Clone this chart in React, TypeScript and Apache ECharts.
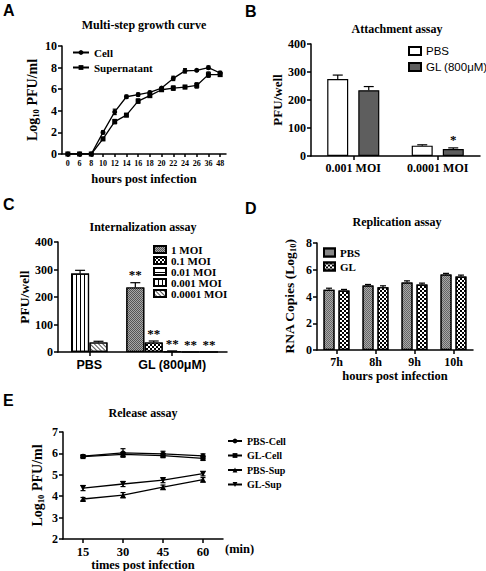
import React, { useEffect, useRef } from 'react';
import * as echarts from 'echarts';

// ---------- Panel A: Multi-step growth curve ----------
const hoursA = ['0', '6', '8', '10', '12', '14', '16', '18', '20', '22', '24', '26', '36', '48'];
const cellA = [0, 0, 0, 2.0, 3.9, 5.3, 5.5, 5.7, 6.1, 7.0, 7.7, 7.75, 8.0, 7.5];
const cellErrA = [0, 0, 0, 0.15, 0.25, 0.15, 0.15, 0.1, 0.1, 0.2, 0.2, 0.1, 0.15, 0.15];
const supA = [0, 0, 0, 1.4, 3.0, 3.6, 4.9, 5.4, 5.95, 6.1, 6.2, 6.35, 7.35, 7.35];
const supErrA = [0, 0, 0, 0.15, 0.2, 0.15, 0.2, 0.15, 0.1, 0.2, 0.15, 0.25, 0.25, 0.15];

// ---------- Panel B: Attachment assay ----------
const moiB = ['0.001 MOI', '0.0001 MOI'];
const pbsB = [275, 37];
const pbsErrB = [14, 3];
const glB = [235, 25];
const glErrB = [13, 4];
const sigB = ['', '*'];

// ---------- Panel C: Internalization assay ----------
const groupsC = ['PBS', 'GL (800μM)'];
const groupPosC = [0.5, 5];
const moiC = ['1 MOI', '0.1 MOI', '0.01 MOI', '0.001 MOI', '0.0001 MOI'];
const slotsC = [[3], [4], [5], [0, 6], [1, 7]];
const valuesC = [[235], [35], [3], [285, 0], [35, 0]];
const errC = [[17], [5], [1], [12, 0], [4, 0]];
const sigC = [['**'], ['**'], ['**'], ['', '**'], ['', '**']];

// ---------- Panel D: Replication assay ----------
const hoursD = ['7h', '8h', '9h', '10h'];
const pbsD = [4.5, 4.82, 5.05, 5.65];
const pbsErrD = [0.12, 0.08, 0.12, 0.08];
const glD = [4.45, 4.7, 4.9, 5.5];
const glErrD = [0.08, 0.1, 0.1, 0.1];

// ---------- Panel E: Release assay ----------
const minutesE = ['15', '30', '45', '60'];
const pbsCellE = [5.87, 6.02, 5.98, 5.88];
const pbsCellErrE = [0.05, 0.2, 0.12, 0.1];
const glCellE = [5.85, 5.95, 5.9, 5.77];
const glCellErrE = [0.05, 0.1, 0.1, 0.1];
const pbsSupE = [3.87, 4.05, 4.42, 4.77];
const pbsSupErrE = [0.07, 0.12, 0.1, 0.1];
const glSupE = [4.38, 4.57, 4.75, 5.05];
const glSupErrE = [0.12, 0.12, 0.12, 0.1];

const serif = '"Times New Roman", "Liberation Serif", serif';
const sans = 'Arial, "Liberation Sans", sans-serif';

const axisLine = { show: true, onZero: false, lineStyle: { color: '#000', width: 1.5 } };
const tickOut = { show: true, length: 4, inside: false, lineStyle: { color: '#000', width: 1.5 } };
const noSplit = { show: false };

function lbl(size: number, family = serif, weight = 'bold') {
  return { color: '#000', fontFamily: family, fontWeight: weight, fontSize: size };
}

function yName(rich: boolean, size: number) {
  return {
    color: '#000', fontFamily: serif, fontWeight: 'bold', fontSize: size,
    rich: rich ? {
      a: { color: '#000', fontFamily: serif, fontWeight: 'bold', fontSize: size },
      s: { color: '#000', fontFamily: serif, fontWeight: 'bold', fontSize: size * 0.62, padding: [7, 0, 0, 0] },
    } : undefined,
  };
}

function errSeries(xi: number, xs: number[], vals: number[], errs: number[], offset: number, cap: number, both: boolean,
  sig?: string[], sigGap = 3) {
  return {
    type: 'custom', xAxisIndex: xi, yAxisIndex: xi, z: 5, silent: true,
    encode: { x: 0, y: 1 },
    data: vals.map((v, i) => [xs[i], v, errs[i]]),
    renderItem: (params: any, api: any) => {
      const x = api.value(0), v = api.value(1), e = api.value(2);
      const hi = api.coord([x, v + e]);
      const lo = api.coord([x, both ? v - e : v]);
      const cx = hi[0] + offset;
      const st = { stroke: '#000', lineWidth: 1.2 };
      const children: any[] = [];
      if (e) {
        children.push({ type: 'line', shape: { x1: cx, y1: lo[1], x2: cx, y2: hi[1] }, style: st });
        children.push({ type: 'line', shape: { x1: cx - cap, y1: hi[1], x2: cx + cap, y2: hi[1] }, style: st });
        if (both) children.push({ type: 'line', shape: { x1: cx - cap, y1: lo[1], x2: cx + cap, y2: lo[1] }, style: st });
      }
      const s = sig ? sig[params.dataIndex] : '';
      if (s) {
        children.push({
          type: 'text', x: cx, y: hi[1] - sigGap,
          style: { text: s, fill: '#000', font: `bold 13px ${serif}`, textAlign: 'center', textVerticalAlign: 'bottom' },
        });
      }
      return { type: 'group', children };
    },
  };
}

const decalDark = { symbol: 'rect', symbolSize: 1, color: '#a8a8a8', backgroundColor: '#4a4a4a', dashArrayX: [[1, 1], [0, 1, 1, 0]], dashArrayY: [1, 0] };
const decalDarkD = { symbol: 'rect', symbolSize: 1, color: '#a8a8a8', backgroundColor: '#4a4a4a', dashArrayX: [[1, 1], [0, 1, 1, 0]], dashArrayY: [1, 0] };
const decalChecker = { symbol: 'rect', symbolSize: 1, color: '#000', backgroundColor: '#fff', dashArrayX: [[2, 2], [0, 2, 2, 0]], dashArrayY: [2, 0] };
const decalCheckerD = { symbol: 'rect', symbolSize: 1, color: '#000', backgroundColor: '#fff', dashArrayX: [[2, 2], [0, 2, 2, 0]], dashArrayY: [2, 0] };
const decalHoriz = { symbol: 'rect', symbolSize: 1, color: '#000', backgroundColor: '#fff', dashArrayX: [1, 0], dashArrayY: [1, 3] };
const decalVert = { symbol: 'rect', symbolSize: 1, color: '#000', backgroundColor: '#fff', dashArrayX: [1, 3], dashArrayY: [1, 0] };
const decalDiag = { symbol: 'rect', symbolSize: 1, color: '#555', backgroundColor: '#fff', dashArrayX: [1, 2], dashArrayY: [1, 0], rotation: -Math.PI / 4 };
const decalsC = [decalDark, decalChecker, decalHoriz, decalVert, decalDiag];
const fillsC = ['#555', '#fff', '#fff', '#fff', '#fff'];

const idx = (arr: any[]) => arr.map((_, i) => i);

function lineSeries(name: string, xi: number, data: number[], symbol: string, size: number, rotate = 0) {
  return {
    type: 'line', name, xAxisIndex: xi, yAxisIndex: xi, data, symbol, symbolSize: size, symbolRotate: rotate,
    lineStyle: { color: '#000', width: 1.3 }, itemStyle: { color: '#000' }, z: 3,
  };
}

function buildOption() {
  const grid = [
    { left: 62, top: 46, width: 164, height: 108 },
    { left: 311, top: 44, width: 169, height: 112 },
    { left: 58, top: 242, width: 169, height: 110 },
    { left: 317, top: 243, width: 156, height: 107 },
    { left: 63, top: 432, width: 160, height: 107 },
  ].map((g) => ({ ...g, outerBoundsMode: 'none', containLabel: false }));

  const xAxis: any[] = [
    {
      gridIndex: 0, type: 'category', data: hoursA, boundaryGap: true, axisLine,
      axisTick: { ...tickOut, length: 3, alignWithLabel: true },
      axisLabel: { ...lbl(8), interval: 0, margin: 5 },
      name: 'hours post infection', nameLocation: 'middle', nameGap: 18, nameTextStyle: lbl(12.5),
    },
    {
      gridIndex: 1, type: 'category', data: moiB, axisLine,
      axisTick: { ...tickOut, alignWithLabel: true },
      axisLabel: { ...lbl(12), margin: 6 },
    },
    {
      gridIndex: 2, type: 'value', min: -1.2, max: 7.98, axisLine, splitLine: noSplit,
      axisTick: { ...tickOut, customValues: groupPosC },
      axisLabel: {
        ...lbl(12.5, sans), margin: 6, customValues: groupPosC,
        formatter: (v: number) => groupsC[groupPosC.indexOf(v)] ?? '',
      },
    },
    {
      gridIndex: 3, type: 'category', data: hoursD, axisLine,
      axisTick: { ...tickOut, alignWithLabel: true },
      axisLabel: { ...lbl(12), margin: 6 },
      name: 'hours post infection', nameLocation: 'middle', nameGap: 19, nameTextStyle: lbl(12.5),
    },
    {
      gridIndex: 4, type: 'category', data: minutesE, axisLine,
      axisTick: { ...tickOut, alignWithLabel: true },
      axisLabel: { ...lbl(12.5), margin: 6 },
      name: 'times post infection', nameLocation: 'middle', nameGap: 19, nameTextStyle: lbl(12.5),
    },
  ];

  const yAxis: any[] = [
    {
      gridIndex: 0, type: 'value', min: 0, max: 10, interval: 2, axisLine, axisTick: tickOut, splitLine: noSplit,
      axisLabel: { ...lbl(12), margin: 5 },
      name: '{a|Log}{s|10}{a| PFU/ml}', nameLocation: 'middle', nameRotate: 90, nameGap: 22, nameTextStyle: yName(true, 14),
    },
    {
      gridIndex: 1, type: 'value', min: 0, max: 400, interval: 100, axisLine, axisTick: tickOut, splitLine: noSplit,
      axisLabel: { ...lbl(12), margin: 5 },
      name: 'PFU/well', nameLocation: 'middle', nameRotate: 90, nameGap: 22, nameTextStyle: yName(false, 13),
    },
    {
      gridIndex: 2, type: 'value', min: 0, max: 400, interval: 100, axisLine, axisTick: tickOut, splitLine: noSplit,
      axisLabel: { ...lbl(12), margin: 5 },
      name: 'PFU/well', nameLocation: 'middle', nameRotate: 90, nameGap: 24, nameTextStyle: yName(false, 13.5),
    },
    {
      gridIndex: 3, type: 'value', min: 0, max: 8, interval: 2, axisLine, axisTick: tickOut, splitLine: noSplit,
      axisLabel: { ...lbl(12), margin: 5 },
      name: '{a|RNA Copies (Log}{s|10}{a|)}', nameLocation: 'middle', nameRotate: 90, nameGap: 20, nameTextStyle: yName(true, 13.5),
    },
    {
      gridIndex: 4, type: 'value', min: 2, max: 7, interval: 1, axisLine, axisTick: tickOut, splitLine: noSplit,
      axisLabel: { ...lbl(12), margin: 5 },
      name: '{a|Log}{s|10}{a| PFU/ml}', nameLocation: 'middle', nameRotate: 90, nameGap: 18, nameTextStyle: yName(true, 14),
    },
  ];

  const series: any[] = [];
  // A
  series.push(lineSeries('Cell', 0, cellA, 'circle', 5));
  series.push(lineSeries('Supernatant', 0, supA, 'rect', 5));
  series.push(errSeries(0, idx(hoursA), cellA, cellErrA, 0, 2, true));
  series.push(errSeries(0, idx(hoursA), supA, supErrA, 0, 2, true));
  // B
  const barBorder = { borderColor: '#000', borderWidth: 1.2 };
  series.push({
    type: 'bar', name: 'B:PBS', xAxisIndex: 1, yAxisIndex: 1, data: pbsB, barWidth: 21, barGap: '48%',
    itemStyle: { color: '#fff', ...barBorder },
  });
  series.push({
    type: 'bar', name: 'B:GL', xAxisIndex: 1, yAxisIndex: 1, data: glB, barWidth: 21, barGap: '48%',
    itemStyle: { color: '#5e5e5e', ...barBorder },
  });
  series.push(errSeries(1, idx(moiB), pbsB, pbsErrB, -15.5, 5, false));
  series.push(errSeries(1, idx(moiB), glB, glErrB, 15.5, 5, false, sigB, 2));
  // C
  moiC.forEach((name, s) => {
    series.push({
      type: 'bar', name, xAxisIndex: 2, yAxisIndex: 2, barWidth: 18, barGap: '-100%',
      data: slotsC[s].map((x, i) => [x, valuesC[s][i]]),
      itemStyle: { color: fillsC[s], decal: decalsC[s], ...barBorder },
    });
    series.push(errSeries(2, slotsC[s], valuesC[s], errC[s], 0, 5, false, sigC[s], s === 0 ? 2 : 1));
  });
  // D
  series.push({
    type: 'bar', name: 'D:PBS', xAxisIndex: 3, yAxisIndex: 3, data: pbsD, barWidth: 11, barGap: '36%',
    itemStyle: { color: '#666', decal: decalDarkD, ...barBorder },
  });
  series.push({
    type: 'bar', name: 'D:GL', xAxisIndex: 3, yAxisIndex: 3, data: glD, barWidth: 11, barGap: '36%',
    itemStyle: { color: '#fff', decal: decalCheckerD, ...barBorder },
  });
  series.push(errSeries(3, idx(hoursD), pbsD, pbsErrD, -7.5, 3, false));
  series.push(errSeries(3, idx(hoursD), glD, glErrD, 7.5, 3, false));
  // E
  series.push(lineSeries('PBS-Cell', 4, pbsCellE, 'circle', 5));
  series.push(lineSeries('GL-Cell', 4, glCellE, 'rect', 5));
  series.push(lineSeries('PBS-Sup', 4, pbsSupE, 'triangle', 6));
  series.push(lineSeries('GL-Sup', 4, glSupE, 'triangle', 6, 180));
  series.push(errSeries(4, idx(minutesE), pbsCellE, pbsCellErrE, 0, 2.5, true));
  series.push(errSeries(4, idx(minutesE), glCellE, glCellErrE, 0, 2.5, true));
  series.push(errSeries(4, idx(minutesE), pbsSupE, pbsSupErrE, 0, 2.5, true));
  series.push(errSeries(4, idx(minutesE), glSupE, glSupErrE, 0, 2.5, true));

  const legendBase = { orient: 'vertical', selectedMode: false, padding: 0 };
  const legend: any[] = [
    { ...legendBase, data: ['Cell', 'Supernatant'], left: 72, top: 47, itemWidth: 16, itemHeight: 6, itemGap: 4, textStyle: { ...lbl(11), lineHeight: 9 } },
    {
      ...legendBase, data: ['B:PBS', 'B:GL'], formatter: (n: string) => (n === 'B:PBS' ? 'PBS' : 'GL (800μM)'),
      left: 408, top: 45, icon: 'rect', itemWidth: 12, itemHeight: 8, itemGap: 4, textStyle: { ...lbl(11.5, sans, 'normal'), lineHeight: 9 },
    },
    { ...legendBase, data: moiC, left: 153, top: 244, icon: 'rect', itemWidth: 12, itemHeight: 7, itemGap: 0, textStyle: { ...lbl(11), lineHeight: 9.5 } },
    {
      ...legendBase, data: ['D:PBS', 'D:GL'], formatter: (n: string) => (n === 'D:PBS' ? 'PBS' : 'GL'),
      left: 323, top: 247, icon: 'rect', itemWidth: 11, itemHeight: 8, itemGap: 3, textStyle: { ...lbl(11), lineHeight: 9 },
    },
    { ...legendBase, data: ['PBS-Cell', 'GL-Cell', 'PBS-Sup', 'GL-Sup'], left: 227, top: 436, itemWidth: 14, itemHeight: 6, itemGap: 4.5, textStyle: { ...lbl(10), lineHeight: 8 } },
  ];

  const letter = (t: string, x: number, y: number) => ({
    type: 'text', x, y, style: { text: t, fill: '#000', font: `bold 16px ${sans}`, textVerticalAlign: 'top' },
  });
  const title = (t: string, x: number, y: number) => ({
    type: 'text', x, y, style: { text: t, fill: '#000', font: `bold 12px ${serif}`, textAlign: 'center', textVerticalAlign: 'middle' },
  });
  const graphic = [
    letter('A', 3, 2), title('Multi-step growth curve', 144, 25),
    letter('B', 245, 3), title('Attachment assay', 397, 29),
    letter('C', 3, 196), title('Internalization assay', 143, 227),
    letter('D', 245, 200), title('Replication assay', 397, 222),
    letter('E', 3, 392), title('Release assay', 143, 413),
    {
      type: 'text', x: 225, y: 549,
      style: { text: '(min)', fill: '#000', font: `bold 12.5px ${serif}`, textVerticalAlign: 'middle' },
    },
  ];

  return {
    animation: false,
    backgroundColor: '#fff',
    grid, xAxis, yAxis, series, legend, graphic,
  };
}

export default function App() {
  const ref = useRef<HTMLDivElement>(null);
  useEffect(() => {
    if (!ref.current) return;
    const chart = echarts.init(ref.current, null, { renderer: 'svg' });
    chart.setOption(buildOption() as any);
    return () => chart.dispose();
  }, []);
  return <div ref={ref} style={{ position: 'absolute', left: 0, top: 0, width: 486, height: 571 }} />;
}
